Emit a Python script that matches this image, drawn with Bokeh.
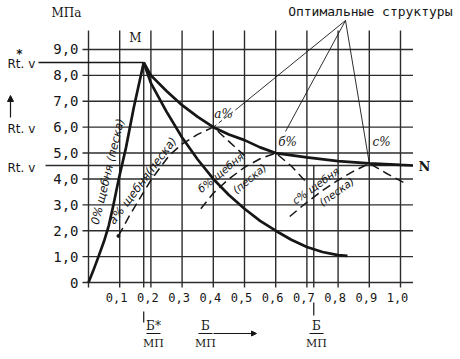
from bokeh.plotting import figure
from bokeh.models import Range1d, Arrow, NormalHead
from bokeh.core.properties import value
from bokeh.embed import file_html
from bokeh.resources import INLINE

# ---------------- data ----------------
x_ticks = [0.0, 0.1, 0.2, 0.3, 0.4, 0.5, 0.6, 0.7, 0.8, 0.9, 1.0]
x_tick_labels = ["", "0,1", "0,2", "0,3", "0,4", "0,5", "0,6", "0,7", "0,8", "0,9", "1,0"]
y_ticks = [0, 1, 2, 3, 4, 5, 6, 7, 8, 9]
y_tick_labels = ["0", "1,0", "2,0", "3,0", "4,0", "5,0", "6,0", "7,0", "8,0", "9,0"]

b_star = 0.177      # Б*/МП at peak M
b_opt = 0.722       # Б/МП of the optimum
rt_star = 8.5       # Rt.v*
rt_inf = 4.52       # Rt.v asymptote
grid_x_max = 1.04
grid_y_max = 9.73

# 0 % щебня (песка)
c0_x = [0.0, 0.015, 0.032, 0.05, 0.065, 0.08, 0.097, 0.12, 0.145, 0.177]
c0_y = [0.0, 0.45, 1.0, 1.6, 2.2, 3.0, 4.0, 5.2, 6.75, 8.5]

# upper thick curve M -> N
up_x = [0.177, 0.2, 0.25, 0.3, 0.35, 0.4, 0.45, 0.5, 0.55, 0.6, 0.7, 0.8, 0.9, 1.0, 1.04]
up_y = [8.5, 8.0, 7.4, 6.85, 6.4, 6.0, 5.72, 5.5, 5.22, 5.0, 4.83, 4.69, 4.6, 4.54, 4.52]

# lower thick curve from M
lo_x = [0.177, 0.2, 0.25, 0.3, 0.35, 0.4, 0.45, 0.5, 0.55, 0.6, 0.65, 0.7, 0.75, 0.8, 0.83]
lo_y = [8.5, 7.7, 6.6, 5.6, 4.75, 4.0, 3.38, 2.85, 2.38, 2.0, 1.65, 1.37, 1.18, 1.06, 1.03]

# dashed curves a %, б %, с % щебня (песка)
a_x = [0.096, 0.13, 0.167, 0.2, 0.23, 0.26, 0.3, 0.35, 0.4, 0.45, 0.5]
a_y = [1.8, 2.55, 3.3, 3.95, 4.45, 4.92, 5.35, 5.72, 6.0, 5.45, 4.9]
b_x = [0.36, 0.4, 0.45, 0.5, 0.55, 0.6, 0.65, 0.7]
b_y = [2.85, 3.45, 4.0, 4.45, 4.78, 5.0, 4.5, 3.85]
c_x = [0.645, 0.7, 0.75, 0.8, 0.85, 0.9, 0.95, 1.01]
c_y = [2.55, 3.1, 3.55, 3.95, 4.3, 4.6, 4.25, 3.86]

opt_x = [0.4, 0.6, 0.9]
opt_y = [6.0, 5.0, 4.6]
opt_labels = ["а%", "б%", "с%"]

# ---------------- layout helpers ----------------
W, H = 460, 359
PX, PY = 312.0, 25.889          # pixels per unit
OX, OY = 88, 282                # pixel position of (0, 0)


def dx(px):
    return (px - OX) / PX


def dy(py):
    return (OY - py) / PY


p = figure(width=W, height=H, output_backend="svg", toolbar_location=None,
           x_range=Range1d(dx(0), dx(W)), y_range=Range1d(dy(H), dy(0)),
           x_axis_location=None, y_axis_location=None, min_border=0)
p.xgrid.visible = False
p.ygrid.visible = False
p.outline_line_color = None
p.background_fill_color = "white"
p.border_fill_color = "white"

INK = "#161616"
GRID = "#2c2c2c"
MONO = value("DejaVu Sans Mono")
SERIF = value("DejaVu Serif")
HAND = value("DejaVu Sans")

# grid
p.segment(x0=x_ticks, y0=[dy(287)] * len(x_ticks), x1=x_ticks, y1=[grid_y_max] * len(x_ticks),
          line_color=GRID, line_width=1.4)
p.segment(x0=[dx(82)] * len(y_ticks), y0=y_ticks, x1=[grid_x_max] * len(y_ticks), y1=y_ticks,
          line_color=GRID, line_width=1.4)

# extra verticals at Б*/МП and optimum Б/МП
p.segment(x0=[b_star], y0=[dy(287)], x1=[b_star], y1=[rt_star], line_color=GRID, line_width=1.4)
p.segment(x0=[b_opt], y0=[dy(287)], x1=[b_opt], y1=[rt_inf], line_color=GRID, line_width=1.4)
p.segment(x0=[b_star], y0=[dy(311)], x1=[b_star], y1=[dy(322)], line_color=INK, line_width=1.2)
p.segment(x0=[b_opt], y0=[dy(302)], x1=[b_opt], y1=[dy(315)], line_color=INK, line_width=1.2)

# Rt.v reference lines
p.segment(x0=[dx(38)], y0=[rt_star], x1=[b_star], y1=[rt_star], line_color=INK, line_width=1.6)
p.segment(x0=[dx(45)], y0=[rt_inf], x1=[grid_x_max], y1=[rt_inf], line_color=GRID, line_width=1.4)

# leader lines from "Оптимальные структуры"
apex_x, apex_y = dx(345), dy(20)
p.segment(x0=[apex_x] * 3, y0=[apex_y] * 3,
          x1=[dx(238), dx(285), opt_x[2]], y1=[dy(107), dy(131), opt_y[2]],
          line_color=INK, line_width=0.9)
p.segment(x0=[dx(238)], y0=[dy(107)], x1=[opt_x[0]], y1=[opt_y[0]],
          line_color=INK, line_width=0.9, line_dash="4 3")

# curves
p.line(c0_x, c0_y, line_color=INK, line_width=2.7)
p.line(up_x, up_y, line_color=INK, line_width=2.7)
p.line(lo_x, lo_y, line_color=INK, line_width=2.7)
for xs, ys in ((a_x, a_y), (b_x, b_y), (c_x, c_y)):
    p.line(xs, ys, line_color=INK, line_width=1.5, line_dash="9 5")
p.scatter([a_x[0]], [a_y[0]], size=3, color=INK)

# tick labels
p.text(x=[dx(78)] * len(y_ticks), y=y_ticks, text=y_tick_labels, text_font=MONO,
       text_font_size="14px", text_align="right", text_baseline="middle", text_color=INK)
p.text(x=[t - 3 / PX for t in x_ticks], y=[dy(297)] * len(x_ticks), text=x_tick_labels,
       text_font=MONO, text_font_size="12px", text_align="center", text_baseline="middle",
       text_color=INK)

# left titles
p.text(x=[dx(66)], y=[dy(12)], text=["МПа"], text_font=SERIF, text_font_size="12px",
       text_align="center", text_baseline="middle", text_color=INK)
p.text(x=[dx(7)] * 3, y=[dy(63), dy(128), dy(167)], text=["Rt. v"] * 3, text_font=HAND,
       text_font_size="12px", text_align="left", text_baseline="middle", text_color=INK)
p.text(x=[dx(19)], y=[dy(53)], text=["*"], text_font=HAND, text_font_size="12px",
       text_align="center", text_baseline="middle", text_color=INK, text_font_style="bold")
p.add_layout(Arrow(end=NormalHead(size=6, fill_color=INK, line_color=INK),
                   x_start=dx(10), y_start=dy(117), x_end=dx(10), y_end=dy(95),
                   line_color=INK, line_width=1.2))

# top titles
p.text(x=[dx(452)], y=[dy(11)], text=["Оптимальные структуры"], text_font=MONO,
       text_font_size="13px", text_align="right", text_baseline="middle", text_color=INK)
p.text(x=[dx(135)], y=[dy(37)], text=["М"], text_font=SERIF, text_font_size="12px",
       text_align="center", text_baseline="middle", text_color=INK)
p.text(x=[dx(424)], y=[dy(166)], text=["N"], text_font=SERIF, text_font_size="13px",
       text_align="center", text_baseline="middle", text_color=INK, text_font_style="bold")

# optimum point labels
p.text(x=[dx(223), dx(287), dx(381)], y=[dy(113), dy(141), dy(141)], text=opt_labels,
       text_font=SERIF, text_font_size="12px", text_font_style="italic",
       text_align="center", text_baseline="middle", text_color=INK)

# rotated curve labels
lbl_x = [dx(107), dx(142)]
lbl_y = [dy(171), dy(180)]
lbl_t = ["0% щебня (песка)", "а% щебня(песка)"]
lbl_a = [1.33, 0.93]
p.text(x=lbl_x, y=lbl_y, text=lbl_t, angle=lbl_a, text_font=HAND, text_font_size="11.5px",
       text_font_style="italic", text_align="center", text_baseline="middle", text_color=INK)
lbl2_x = [dx(220), dx(249), dx(315), dx(336)]
lbl2_y = [dy(172), dy(178), dy(185), dy(191)]
lbl2_t = ["б% щебня", "(песка)", "с% щебня", "(песка)"]
lbl2_a = [0.69, 0.69, 0.62, 0.62]
p.text(x=lbl2_x, y=lbl2_y, text=lbl2_t, angle=lbl2_a, text_font=HAND, text_font_size="10.5px",
       text_font_style="italic", text_align="center", text_baseline="middle", text_color=INK)

# bottom Б/МП fractions
frac_x = [dx(153), dx(205), dx(316)]
p.text(x=frac_x, y=[dy(325)] * 3, text=["Б*", "Б", "Б"], text_font=SERIF,
       text_font_size="12px", text_align="center", text_baseline="middle", text_color=INK)
p.segment(x0=[f - 7 / PX for f in frac_x], y0=[dy(333)] * 3,
          x1=[f + 7 / PX for f in frac_x], y1=[dy(333)] * 3, line_color=INK, line_width=1)
p.text(x=frac_x, y=[dy(343)] * 3, text=["МП"] * 3, text_font=SERIF,
       text_font_size="11px", text_align="center", text_baseline="middle", text_color=INK)
p.add_layout(Arrow(end=NormalHead(size=5, fill_color=INK, line_color=INK),
                   x_start=dx(213), y_start=dy(333), x_end=dx(256), y_end=dy(333),
                   line_color=INK, line_width=1.1))

open("out.html", "w").write(file_html(p, INLINE))
